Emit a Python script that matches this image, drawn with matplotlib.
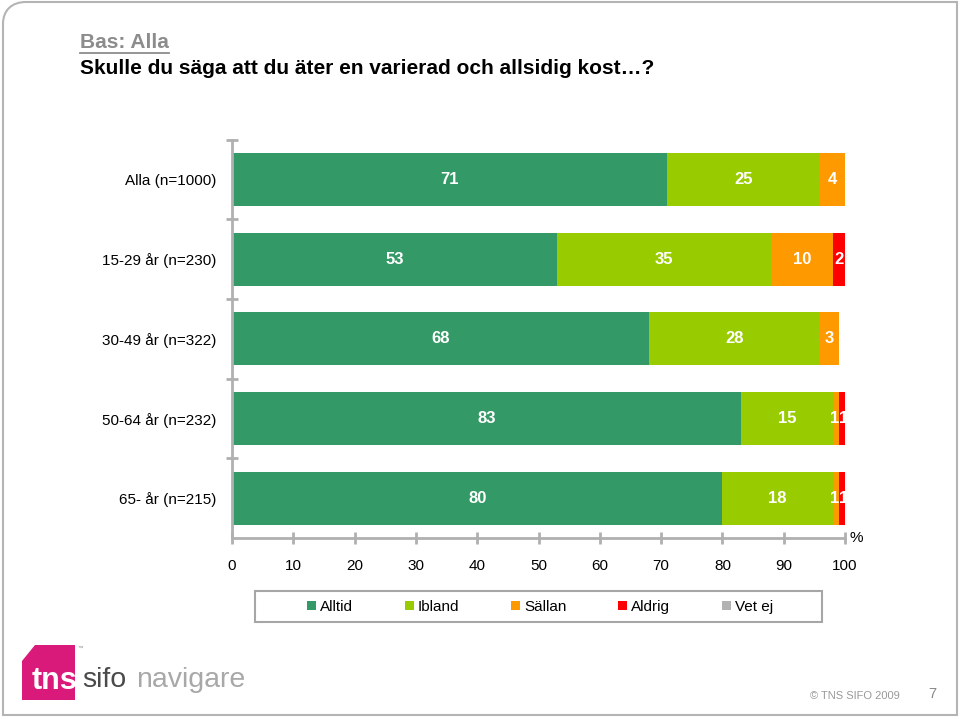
import matplotlib
matplotlib.use("Agg")
import matplotlib.pyplot as plt
from matplotlib.patches import Patch, Polygon, PathPatch, Rectangle
from matplotlib.path import Path
from matplotlib.lines import Line2D
import numpy as np

plt.rcParams['font.family'] = ['Liberation Sans', 'DejaVu Sans']

# --- data ---
categories = ["Alla (n=1000)", "15-29 år (n=230)", "30-49 år (n=322)",
              "50-64 år (n=232)", "65- år (n=215)"]
series_names = ["Alltid", "Ibland", "Sällan", "Aldrig", "Vet ej"]
alltid = [71, 53, 68, 83, 80]
ibland = [25, 35, 28, 15, 18]
sallan = [4, 10, 3, 1, 1]
aldrig = [0.3, 2, 0, 1, 1]
vet_ej = [0, 0, 0, 0, 0]
colors = ["#339966", "#99CC00", "#FF9900", "#FF0000", "#B2B2B2"]
x_ticks = [0, 10, 20, 30, 40, 50, 60, 70, 80, 90, 100]

W, H = 960, 719
fig = plt.figure(figsize=(W / 100, H / 100), dpi=100)

def fx(x):
    return x / W

def fy(y):
    return 1 - y / H

# slide border with rounded top-left corner
verts = [(fx(3), fy(715)), (fx(3), fy(24)), (fx(3), fy(10)), (fx(12), fy(2)),
         (fx(26), fy(2)), (fx(957), fy(2)), (fx(957), fy(715)), (fx(3), fy(715))]
codes = [Path.MOVETO, Path.LINETO, Path.CURVE4, Path.CURVE4, Path.CURVE4,
         Path.LINETO, Path.LINETO, Path.CLOSEPOLY]
fig.patches.append(PathPatch(Path(verts, codes), transform=fig.transFigure,
                             fill=False, edgecolor="#B4B4B4", linewidth=1.5))

# titles
bas = fig.text(fx(80), fy(42), "Bas: Alla", fontsize=15, fontweight="bold",
               color="#8C8C8C", va="center", ha="left")
fig.text(fx(80), fy(68), "Skulle du säga att du äter en varierad och allsidig kost\u2026?",
         fontsize=15, fontweight="bold", color="black", va="center", ha="left")

# chart
ax = fig.add_axes([fx(232), fy(538), fx(845) - fx(232), fy(139.75) - fy(538)])
y = np.arange(len(categories))
data = np.array([alltid, ibland, sallan, aldrig, vet_ej], dtype=float)
starts = np.vstack([np.zeros(len(categories)), np.cumsum(data, axis=0)[:-1]])
for k, (vals, col) in enumerate(zip(data, colors)):
    ax.barh(y, vals, left=starts[k], height=0.667, color=col, edgecolor="none")

# value labels; two neighbouring thin segments get labels set side by side
for yi in range(len(categories)):
    for k in range(len(series_names)):
        v = data[k, yi]
        if v < 0.5:
            continue
        l = starts[k, yi]
        xpos, ha = l + v / 2, "center"
        if v < 2:
            if k + 1 < len(series_names) and 0.5 <= data[k + 1, yi] < 2:
                xpos, ha = l + v, "right"
            elif k > 0 and 0.5 <= data[k - 1, yi] < 2:
                xpos, ha = l, "left"
        ax.text(xpos, yi, f"{v:.0f}", ha=ha, va="center",
                color="white", fontsize=12, fontweight="bold")

ax.set_xlim(0, 100)
ax.set_ylim(4.5, -0.5)
ax.set_yticks(y)
ax.set_yticklabels(categories, fontsize=11)
ax.set_yticks(np.arange(-0.5, 4.0, 1.0), minor=True)
ax.tick_params(axis="y", which="major", length=0, pad=11)
ax.tick_params(axis="y", which="minor", direction="inout", length=8, width=2,
               color="#B0B0B0")
ax.set_xticks(x_ticks)
ax.set_xticklabels([str(t) for t in x_ticks], fontsize=11)
ax.tick_params(axis="x", direction="inout", length=8, width=2, color="#B0B0B0", pad=11)
for s in ["top", "right"]:
    ax.spines[s].set_visible(False)
for s in ["left", "bottom"]:
    ax.spines[s].set_color("#B0B0B0")
    ax.spines[s].set_linewidth(2)
ax.text(1.008, 0.0, "%", transform=ax.transAxes, fontsize=11, ha="left", va="center")

# legend
fig.patches.append(Rectangle((fx(255), fy(622)), fx(822) - fx(255), fy(591) - fy(622),
                             transform=fig.transFigure, fill=False,
                             edgecolor="#A6A6A6", linewidth=1.5))
handles = [Patch(facecolor=c, edgecolor="none") for c in colors]
fig.legend(handles, series_names, loc="center", bbox_to_anchor=(fx(540), fy(607)),
           ncol=5, frameon=False, fontsize=11, handlelength=0.6, handleheight=0.6,
           handletextpad=0.25, columnspacing=3.4)

# logo
logo = Polygon([(fx(22), fy(700)), (fx(22), fy(661)), (fx(35), fy(645)),
                (fx(75), fy(645)), (fx(75), fy(700))], closed=True,
               transform=fig.transFigure, facecolor="#D91A7A", edgecolor="none")
fig.patches.append(logo)
fig.text(fx(32), fy(689), "tns", fontsize=22, fontweight="bold", color="white",
         ha="left", va="baseline")
fig.text(fx(77), fy(648), "\u2122", fontsize=4, color="#888888", ha="left", va="center")
fig.text(fx(82), fy(687), "sifo", fontsize=20.5, color="#4A4A4A", ha="left", va="baseline")
fig.text(fx(136), fy(687), "navigare", fontsize=20.5, color="#A8A8A8", ha="left", va="baseline")

# footer
fig.text(fx(810), fy(696), "\u00a9 TNS SIFO 2009", fontsize=8, color="#999999",
         ha="left", va="center")
fig.text(fx(928), fy(694), "7", fontsize=10.5, color="#888888", ha="left", va="center")

# underline for "Bas: Alla"
fig.canvas.draw()
bb = bas.get_window_extent().transformed(fig.transFigure.inverted())
fig.add_artist(Line2D([bb.x0, bb.x1], [fy(52.5), fy(52.5)], transform=fig.transFigure,
                      color="#8C8C8C", linewidth=1.3))

fig.savefig("out.png", dpi=100)
